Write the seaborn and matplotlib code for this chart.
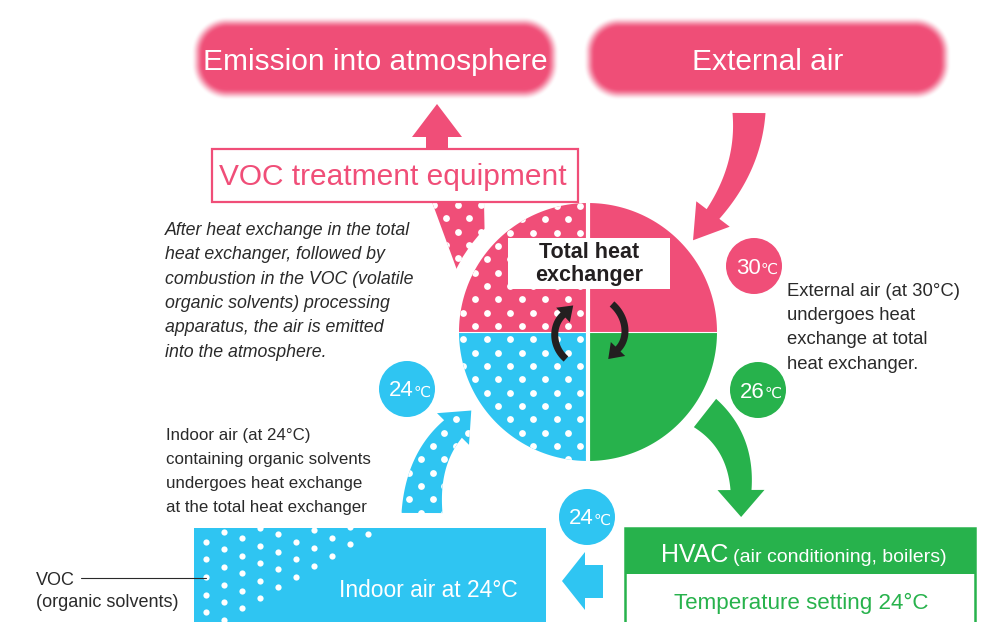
import numpy as np
import matplotlib
matplotlib.use("Agg")
import matplotlib.pyplot as plt
import matplotlib.colors as mcolors
import seaborn as sns
from matplotlib.patches import Polygon, Circle, Rectangle
from math import comb

# colours
PINK = "#F04E78"
BLUE = "#2FC5F2"
GREEN = "#27B24C"
INK = "#2a2a2a"

# texts and values
top_boxes = ["Emission into atmosphere", "External air"]
voc_box = "VOC treatment equipment"
hx_label = ["Total heat", "exchanger"]
emit_note = ["After heat exchange in the total",
             "heat exchanger, followed by",
             "combustion in the VOC (volatile",
             "organic solvents) processing",
             "apparatus, the air is emitted",
             "into the atmosphere."]
ext_note = ["External air (at 30°C)",
            "undergoes heat",
            "exchange at total",
            "heat exchanger."]
indoor_note = ["Indoor air (at 24°C)",
               "containing organic solvents",
               "undergoes heat exchange",
               "at the total heat exchanger"]
temps = [30, 26, 24, 24]
temp_colors = [PINK, GREEN, BLUE, BLUE]
indoor_label = "Indoor air at 24°C"
voc_label = ["VOC", "(organic solvents)"]
hvac_title = "HVAC"
hvac_sub = "(air conditioning, boilers)"
hvac_setting = "Temperature setting 24°C"

sns.set_theme(style="white")
plt.rcParams["font.family"] = ["Liberation Sans", "DejaVu Sans"]


def bezier(ctrl, n=80):
    ctrl = np.asarray(ctrl, float)
    t = np.linspace(0, 1, n)[:, None]
    k = len(ctrl) - 1
    return sum(comb(k, i) * t**i * (1 - t)**(k - i) * ctrl[i] for i in range(k + 1))


def arrow_shape(ctrl, w0, w1, head_w, head_len):
    c = bezier(ctrl)
    d = np.gradient(c, axis=0)
    d /= np.linalg.norm(d, axis=1)[:, None]
    nv = np.column_stack([-d[:, 1], d[:, 0]])
    w = np.linspace(w0, w1, len(c))[:, None] / 2
    end, de, ne = c[-1], d[-1], nv[-1]
    head = [end + ne * head_w / 2, end + de * head_len, end - ne * head_w / 2]
    return np.vstack([c + nv * w, head, (c - nv * w)[::-1]])


def sector(cx, cy, r, a0, a1):
    t = np.radians(np.linspace(a0, a1, 60))
    return np.vstack([[cx, cy], np.column_stack([cx + r * np.cos(t), cy - r * np.sin(t)])])


def soft_pill(ax, cx, cy, hx, hy, r, soft, color):
    pad = soft + 4
    xs = np.arange(cx - hx - pad, cx + hx + pad, 0.5)
    ys = np.arange(cy - hy - pad, cy + hy + pad, 0.5)
    X, Y = np.meshgrid(xs, ys)
    qx = np.abs(X - cx) - (hx - r)
    qy = np.abs(Y - cy) - (hy - r)
    d = np.hypot(np.maximum(qx, 0), np.maximum(qy, 0)) + np.minimum(np.maximum(qx, qy), 0) - r
    a = np.clip(0.5 - d / soft, 0, 1)
    a = a * a * (3 - 2 * a)
    rgba = np.zeros(X.shape + (4,))
    rgba[..., :3] = mcolors.to_rgb(color)
    rgba[..., 3] = a
    ax.imshow(rgba, extent=(xs[0], xs[-1], ys[-1], ys[0]), interpolation="bilinear", zorder=1)


def lattice(ax0, ay0, xr, yr, dx=23.33, dy=13.33):
    j = np.arange(np.floor((yr[0] - ay0) / dy) - 1, np.ceil((yr[1] - ay0) / dy) + 1)
    i = np.arange(np.floor((xr[0] - ax0) / dx) - 1, np.ceil((xr[1] - ax0) / dx) + 1)
    I, J = np.meshgrid(i, j)
    X = ax0 + I * dx + (J % 2) * dx / 2
    Y = ay0 + J * dy
    return X.ravel(), Y.ravel()


def dots(ax, x, y, clip, s=24):
    sns.scatterplot(x=x, y=y, s=s, color="white", linewidth=0, ax=ax,
                    legend=False, zorder=clip.get_zorder() + 0.5)
    ax.collections[-1].set_clip_path(clip)


def add_poly(ax, pts, color, z):
    p = Polygon(pts, closed=True, fc=color, ec="none", zorder=z)
    ax.add_patch(p)
    return p


fig = plt.figure(figsize=(9.92, 6.22), dpi=100)
ax = fig.add_axes([0, 0, 1, 1])

# blurred top boxes
soft_pill(ax, 375, 59, 178, 36, 30, 12, PINK)
soft_pill(ax, 767, 59, 178, 36, 30, 12, PINK)
ax.text(375, 70, top_boxes[0], color="white", fontsize=21.5, ha="center", va="baseline", zorder=2)
ax.text(768, 70, top_boxes[1], color="white", fontsize=21.5, ha="center", va="baseline", zorder=2)

# up arrow to atmosphere
add_poly(ax, [(426, 150), (426, 137), (412, 137), (437, 104), (462, 137), (448, 137), (448, 150)], PINK, 2)

# VOC band leaving the exchanger
band = add_poly(ax, [(432, 202), (484, 202), (486, 300), (468, 300)], PINK, 2)
bx, by = lattice(457.7, 205, (420, 500), (195, 300))
dots(ax, bx, by, band)

# white halo and the exchanger wheel
CX, CY, R = 588, 332, 129
ax.add_patch(Circle((CX, CY), 146, fc="white", ec="none", zorder=3))
tl = add_poly(ax, sector(CX, CY, R, 90, 180), PINK, 4)
add_poly(ax, sector(CX, CY, R, 0, 90), PINK, 4)
bl = add_poly(ax, sector(CX, CY, R, 180, 270), BLUE, 4)
add_poly(ax, sector(CX, CY, R, 270, 360), GREEN, 4)
cx_, cy_ = lattice(545, 219.3, (450, 600), (195, 470))
dots(ax, cx_, cy_, tl)
dots(ax, cx_, cy_, bl)
ax.plot([CX, CX], [198, 466], color="white", lw=3, zorder=5, solid_capstyle="butt")
ax.plot([CX - R, CX + R], [CY, CY], color="white", lw=0.8, zorder=5)

ax.add_patch(Rectangle((508, 238), 162, 51, fc="white", ec="none", zorder=6))
ax.text(589, 258, hx_label[0], fontsize=15.5, fontweight="bold", color="#231F20",
        ha="center", va="baseline", zorder=7)
ax.text(589, 281.5, hx_label[1], fontsize=15.5, fontweight="bold", color="#231F20",
        ha="center", va="baseline", zorder=7)
add_poly(ax, arrow_shape([(566, 359), (551, 346), (552, 325), (563, 315)], 7, 7, 20, 14), "#231F20", 7)
add_poly(ax, arrow_shape([(612, 304), (627, 317), (629, 338), (618, 349)], 7, 7, 20, 14), "#231F20", 7)

# flow arrows
add_poly(ax, arrow_shape([(749, 113), (749, 167), (713, 214)], 33, 16, 42, 33), PINK, 8)
add_poly(ax, arrow_shape([(705, 413), (741, 441), (741, 490)], 36, 21, 47, 27), GREEN, 8)
barrow = add_poly(ax, arrow_shape([(422, 513), (422, 460), (453, 429)], 41, 25, 45, 26), BLUE, 8)
ax_, ay_ = lattice(456, 419.3, (390, 480), (400, 520))
dots(ax, ax_, ay_, barrow)

# VOC treatment box
ax.add_patch(Rectangle((212, 149), 366, 53, fc="white", ec=PINK, lw=1.6, zorder=8))
ax.text(393, 185, voc_box, color=PINK, fontsize=21.5, ha="center", va="baseline", zorder=9)

# notes
for k, line in enumerate(emit_note):
    ax.text(165, 235 + 24.35 * k, line, fontsize=12.8, style="italic", color=INK, va="baseline")
for k, line in enumerate(ext_note):
    ax.text(787, 295.7 + 24.4 * k, line, fontsize=13.3, color=INK, va="baseline")
for k, line in enumerate(indoor_note):
    ax.text(166, 440 + 23.9 * k, line, fontsize=12.2, color=INK, va="baseline")

# temperature badges
centers = [(754, 266), (758, 390), (407, 389), (587, 517)]
for (x, y), t, col in zip(centers, temps, temp_colors):
    ax.add_patch(Circle((x, y), 28, fc=col, ec="none", zorder=8))
    ax.text(x + 7, y + 7.5, str(t), color="white", fontsize=16, ha="right", va="baseline", zorder=9)
    ax.text(x + 7, y + 7.5, "℃", color="white", fontsize=11, ha="left", va="baseline", zorder=9,
            family=["DejaVu Sans", "Noto Sans CJK JP"])

# indoor air block
room = Rectangle((194, 528), 352, 100, fc=BLUE, ec="none", zorder=2)
ax.add_patch(room)
ii, jj = np.meshgrid(np.arange(0, 12), np.arange(-1, 7))
rx = 206 + 18 * ii
ry = 541.7 + 17.6 * jj - 1.9 * ii + (ii % 2) * 9.5
keep = ry <= 603 - 0.6 * (rx - 260)
dots(ax, rx[keep].astype(float), ry[keep], room, s=20)
ax.text(428.5, 596.7, indoor_label, color="white", fontsize=16.4, ha="center", va="baseline", zorder=4)

ax.text(36, 585, voc_label[0], fontsize=13, color=INK, va="baseline")
ax.text(36, 607, voc_label[1], fontsize=13, color=INK, va="baseline")
ax.plot([81, 206], [578, 578], color=INK, lw=0.8, zorder=3)

# return arrow from HVAC to the room
add_poly(ax, [(562, 581), (585, 552), (585, 565), (603, 565), (603, 598), (585, 598), (585, 610)], BLUE, 3)

# HVAC box
ax.add_patch(Rectangle((625, 528), 350, 110, fc="white", ec=GREEN, lw=1.8, zorder=2))
ax.add_patch(Rectangle((625, 528), 350, 46, fc=GREEN, ec="none", zorder=3))
ax.text(728, 561.7, hvac_title, color="white", fontsize=18, ha="right", va="baseline", zorder=4)
ax.text(733, 561.7, hvac_sub, color="white", fontsize=14, ha="left", va="baseline", zorder=4)
ax.text(801, 609, hvac_setting, color=GREEN, fontsize=16.1, ha="center", va="baseline", zorder=4)

ax.set_xlim(0, 992)
ax.set_ylim(622, 0)
ax.set_aspect("auto")
ax.axis("off")
fig.savefig("out.png", dpi=100)
